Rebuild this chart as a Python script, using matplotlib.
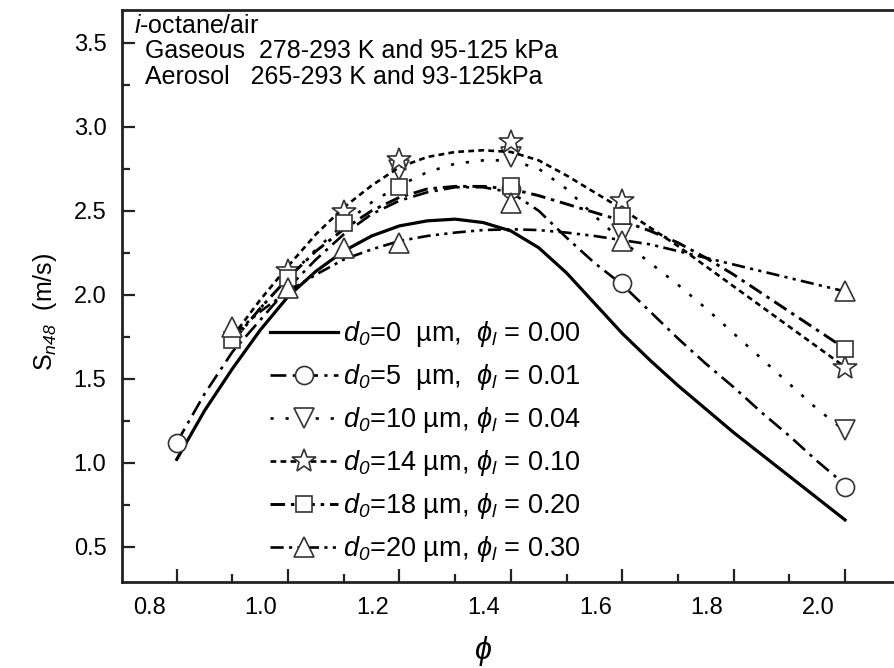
import matplotlib
matplotlib.use('Agg')
import matplotlib.pyplot as plt
from matplotlib.lines import Line2D
from matplotlib.transforms import ScaledTranslation

# ======================
# DATA
# ======================

# x grid of the fitted curves
phi_a = [0.80, 0.85, 0.90, 0.95, 1.00, 1.05, 1.10, 1.15, 1.20, 1.25, 1.30, 1.35,
         1.40, 1.45, 1.50, 1.55, 1.60, 1.65, 1.70, 1.75, 1.80, 1.85, 1.90, 1.95, 2.00]
phi_b = [0.90, 0.95, 1.00, 1.05, 1.10, 1.15, 1.20, 1.25, 1.30, 1.35,
         1.40, 1.45, 1.50, 1.55, 1.60, 1.65, 1.70, 1.75, 1.80, 1.85, 1.90, 1.95, 2.00]

# fitted curves
curve_d0 = [1.02, 1.31, 1.56, 1.79, 1.99, 2.14, 2.26, 2.35, 2.41, 2.44, 2.45, 2.43,
            2.38, 2.28, 2.13, 1.95, 1.77, 1.61, 1.46, 1.32, 1.18, 1.05, 0.92, 0.79, 0.66]
curve_d5 = [1.12, 1.41, 1.66, 1.85, 2.04, 2.21, 2.36, 2.48, 2.56, 2.61, 2.64, 2.64,
            2.61, 2.50, 2.34, 2.19, 2.06, 1.90, 1.74, 1.59, 1.45, 1.30, 1.16, 1.01, 0.87]
curve_d10 = [1.72, 1.92, 2.10, 2.27, 2.42, 2.55, 2.65, 2.73, 2.78, 2.80, 2.80, 2.75,
             2.63, 2.47, 2.32, 2.19, 2.06, 1.92, 1.77, 1.62, 1.47, 1.32, 1.19]
curve_d14 = [1.75, 1.97, 2.17, 2.36, 2.52, 2.65, 2.76, 2.82, 2.85, 2.86, 2.85, 2.80,
             2.71, 2.61, 2.51, 2.40, 2.29, 2.17, 2.05, 1.93, 1.81, 1.69, 1.57]
curve_d18 = [1.72, 1.92, 2.10, 2.26, 2.39, 2.50, 2.58, 2.63, 2.645, 2.645, 2.63, 2.59,
             2.54, 2.49, 2.44, 2.38, 2.31, 2.22, 2.12, 2.01, 1.90, 1.79, 1.68]
curve_d20 = [1.76, 1.90, 2.02, 2.12, 2.21, 2.27, 2.32, 2.35, 2.37, 2.385, 2.39, 2.385,
             2.37, 2.35, 2.325, 2.30, 2.26, 2.22, 2.18, 2.14, 2.10, 2.06, 2.02]

# measured points
phi_d5 = [0.8, 1.4, 1.6, 2.0]
pts_d5 = [1.12, 2.63, 2.07, 0.855]
phi_d10 = [1.2, 1.4, 1.6, 2.0]
pts_d10 = [2.74, 2.82, 2.36, 1.195]
phi_d14 = [1.0, 1.1, 1.2, 1.4, 1.6, 2.0]
pts_d14 = [2.14, 2.49, 2.80, 2.91, 2.56, 1.565]
phi_d18 = [0.9, 1.0, 1.1, 1.2, 1.4, 1.6, 2.0]
pts_d18 = [1.73, 2.10, 2.43, 2.64, 2.65, 2.47, 1.68]
phi_d20 = [0.9, 1.0, 1.1, 1.2, 1.4, 1.6, 2.0]
pts_d20 = [1.81, 2.04, 2.28, 2.31, 2.545, 2.32, 2.02]

labels = [r'$\mathit{d}_{\mathsf{0}}$=0  µm,  $\mathit{\phi}_{\mathit{l}}$ = 0.00',
          r'$\mathit{d}_{\mathsf{0}}$=5  µm,  $\mathit{\phi}_{\mathit{l}}$ = 0.01',
          r'$\mathit{d}_{\mathsf{0}}$=10 µm, $\mathit{\phi}_{\mathit{l}}$ = 0.04',
          r'$\mathit{d}_{\mathsf{0}}$=14 µm, $\mathit{\phi}_{\mathit{l}}$ = 0.10',
          r'$\mathit{d}_{\mathsf{0}}$=18 µm, $\mathit{\phi}_{\mathit{l}}$ = 0.20',
          r'$\mathit{d}_{\mathsf{0}}$=20 µm, $\mathit{\phi}_{\mathit{l}}$ = 0.30']

# ======================
# STYLE
# ======================
plt.rcParams['font.family'] = ['Liberation Sans', 'DejaVu Sans']
plt.rcParams['mathtext.fontset'] = 'custom'
plt.rcParams['mathtext.rm'] = 'Liberation Sans'
plt.rcParams['mathtext.it'] = 'Liberation Sans:italic'
plt.rcParams['mathtext.sf'] = 'Liberation Sans:italic'  # used for italic digits
plt.rcParams['mathtext.bf'] = 'Liberation Sans:bold'

styles = [
    dict(ls='-', lw=2.3, marker=None),
    dict(ls=(0, (6, 2.4, 1.2, 2.4)), lw=1.9, marker='o', ms=13),
    dict(ls=(0, (1.2, 4.5)), lw=1.9, marker='v', ms=14),
    dict(ls=(0, (2.2, 1.6)), lw=1.9, marker='*', ms=18),
    dict(ls=(0, (5, 2, 1.2, 2)), lw=2.1, marker='s', ms=12),
    dict(ls=(0, (5, 2, 1.2, 2, 1.2, 2)), lw=1.9, marker='^', ms=14),
]
mkw = dict(mfc='white', mec='#333333', mew=1.2)

W, H = 894, 668
fig = plt.figure(figsize=(W / 100, H / 100), dpi=100)
ax_l, ax_b, ax_t = 121.7, 581.7, 10
ax = fig.add_axes([ax_l / W, (H - ax_b) / H, (W - ax_l) / W, (ax_b - ax_t) / H])

curves = [(phi_a, curve_d0), (phi_a, curve_d5), (phi_b, curve_d10),
          (phi_b, curve_d14), (phi_b, curve_d18), (phi_b, curve_d20)]
points = [None, (phi_d5, pts_d5), (phi_d10, pts_d10), (phi_d14, pts_d14),
          (phi_d18, pts_d18), (phi_d20, pts_d20)]

handles = []
for (cx, cy), pts, st in zip(curves, points, styles):
    ax.plot(cx, cy, color='k', ls=st['ls'], lw=st['lw'])
    if pts is not None:
        ax.plot(pts[0], pts[1], ls='none', marker=st['marker'], ms=st['ms'], **mkw)
    handles.append(Line2D([], [], color='k', ls=st['ls'], lw=st['lw'],
                          marker=st['marker'], ms=st.get('ms', 0), **mkw))

# axes
ax.set_xlim(0.7012, 2.088)
ax.set_ylim(0.292, 3.695)
ax.set_xticks([0.8, 1.0, 1.2, 1.4, 1.6, 1.8, 2.0])
ax.set_xticklabels(['0.8', '1.0', '1.2', '1.4', '1.6', '1.8', '2.0'])
ax.set_xticks([0.9, 1.1, 1.3, 1.5, 1.7, 1.9], minor=True)
ax.set_yticks([0.5, 1.0, 1.5, 2.0, 2.5, 3.0, 3.5])
ax.set_yticklabels(['0.5', '1.0', '1.5', '2.0', '2.5', '3.0', '3.5'])
ax.set_yticks([0.75, 1.25, 1.75, 2.25, 2.75, 3.25], minor=True)
ax.tick_params(which='both', direction='in', width=1.6, labelsize=17, color='#222222')
ax.tick_params(which='major', length=9.5)
ax.tick_params(which='minor', length=5.5)
ax.tick_params(axis='x', which='major', pad=11)
ax.tick_params(axis='y', which='major', pad=11)
ax.spines['right'].set_visible(False)
for s in ['left', 'bottom', 'top']:
    ax.spines[s].set_linewidth(2.0)
    ax.spines[s].set_color('#222222')

# the x tick labels sit left of their ticks in the original
shift = ScaledTranslation(-0.27, 0, fig.dpi_scale_trans)
for lab in ax.get_xticklabels():
    lab.set_transform(lab.get_transform() + shift)

ax.set_xlabel(r'$\phi$', fontsize=22)
ax.xaxis.set_label_coords((483 - ax_l) / (W - ax_l), -(634 - ax_b) / (ax_b - ax_t))
ax.set_ylabel(r'S$_{\mathsf{n48}}$  (m/s)', fontsize=18)
ax.yaxis.label.set_va('center')
ax.yaxis.set_label_coords((45 - ax_l) / (W - ax_l), (ax_b - 312) / (ax_b - ax_t))

# annotation text
fig.text(134 / W, 1 - 33 / H, r'$\mathit{i}$-octane/air', fontsize=18, va='baseline')
fig.text(145 / W, 1 - 58 / H, 'Gaseous  278-293 K and 95-125 kPa', fontsize=18, va='baseline')
fig.text(145 / W, 1 - 84 / H, 'Aerosol   265-293 K and 93-125kPa', fontsize=18, va='baseline')

ax.legend(handles, labels, loc='upper left', bbox_to_anchor=(270 / W, 1 - 319 / H),
          bbox_transform=fig.transFigure, frameon=False, fontsize=19.5,
          handlelength=2.5, handletextpad=0.2, labelspacing=0.48,
          borderpad=0, borderaxespad=0, numpoints=1)

plt.savefig('out.png', dpi=100)
